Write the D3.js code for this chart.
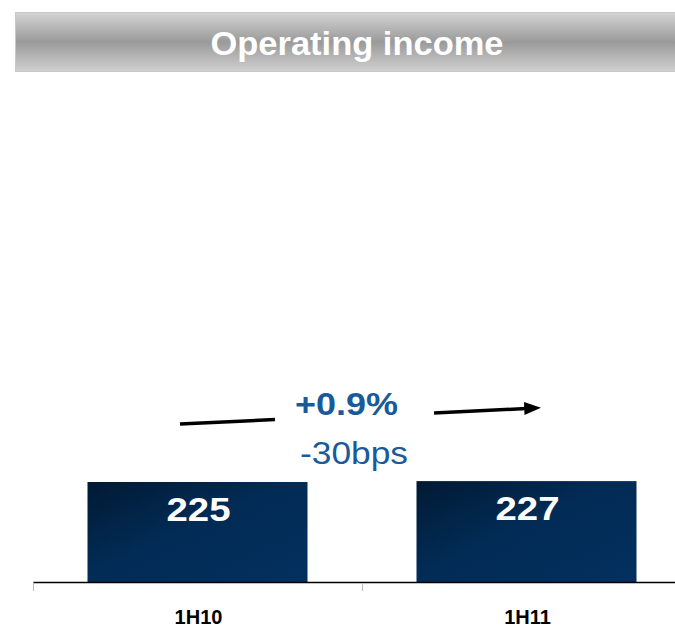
<!DOCTYPE html>
<html><head><meta charset="utf-8">
<script src="https://cdn.jsdelivr.net/npm/d3@7"></script>
<style>html,body{margin:0;padding:0;background:#fff;}svg{display:block;}</style>
</head><body>
<script>
const categories = ["1H10", "1H11"];
const values = [225, 227];
const title = "Operating income";
const changeLabel = "+0.9%";
const marginLabel = "-30bps";

const W = 675, H = 629;
const svg = d3.select("body").append("svg").attr("width", W).attr("height", H)
  .style("font-family", "Arial, 'Liberation Sans', sans-serif");

const defs = svg.append("defs");
const tg = defs.append("linearGradient").attr("id", "tg").attr("x1", 0).attr("y1", 0).attr("x2", 0).attr("y2", 1);
tg.append("stop").attr("offset", "0%").attr("stop-color", "#d4d4d4");
tg.append("stop").attr("offset", "50%").attr("stop-color", "#9a9a9a");
tg.append("stop").attr("offset", "100%").attr("stop-color", "#d0d0d0");
const bg = defs.append("linearGradient").attr("id", "bg").attr("x1", 0).attr("y1", 0).attr("x2", 1).attr("y2", 1);
bg.append("stop").attr("offset", "0%").attr("stop-color", "#011a33");
bg.append("stop").attr("offset", "45%").attr("stop-color", "#022b55");
bg.append("stop").attr("offset", "100%").attr("stop-color", "#03305f");

// Title bar
svg.append("rect").attr("x", 15.5).attr("y", 12.5).attr("width", 680).attr("height", 59)
  .attr("fill", "url(#tg)").attr("stroke", "#c8c8c8").attr("stroke-width", 1);
svg.append("text").attr("x", 357).attr("y", 55).attr("text-anchor", "middle")
  .attr("fill", "#fff").attr("font-weight", "bold").attr("font-size", 34)
  .attr("textLength", 293).attr("lengthAdjust", "spacingAndGlyphs").text(title);

// Scales
const x = d3.scaleBand().domain(categories).range([33, 691]).paddingInner(0).paddingOuter(0);
const y = d3.scaleLinear().domain([0, 630]).range([582, 302]);
const barW = 220;

svg.selectAll("rect.bar").data(values).join("rect").attr("class", "bar")
  .attr("x", (d, i) => x(categories[i]) + x.bandwidth() / 2 - barW / 2)
  .attr("y", d => y(d)).attr("width", barW).attr("height", d => y(0) - y(d))
  .attr("fill", "url(#bg)");

svg.selectAll("text.val").data(values).join("text").attr("class", "val")
  .attr("x", (d, i) => x(categories[i]) + x.bandwidth() / 2 + 1)
  .attr("y", d => y(d) + 39).attr("text-anchor", "middle")
  .attr("textLength", 64).attr("lengthAdjust", "spacingAndGlyphs")
  .attr("fill", "#fff").attr("font-weight", "bold").attr("font-size", 34).text(d => d);

// Axis
const ax = svg.append("g").attr("transform", `translate(0,${y(0)})`)
  .call(d3.axisBottom(x).tickSize(0).tickFormat(""));
ax.select(".domain").attr("stroke", "#000").attr("stroke-width", 1.5);
ax.selectAll(".tick").remove();
svg.selectAll("line.sep").data(categories).join("line").attr("class", "sep")
  .attr("x1", d => x(d) + 0.5).attr("x2", d => x(d) + 0.5)
  .attr("y1", y(0) + 1).attr("y2", y(0) + 9).attr("stroke", "#bbb").attr("stroke-width", 1);
svg.selectAll("text.cat").data(categories).join("text").attr("class", "cat")
  .attr("x", d => x(d) + x.bandwidth() / 2 + 1).attr("y", 624).attr("text-anchor", "middle")
  .attr("font-weight", "bold").attr("font-size", 20).attr("fill", "#000").text(d => d);

// Change annotation
svg.append("text").attr("x", 346.5).attr("y", 415).attr("text-anchor", "middle")
  .attr("textLength", 103).attr("lengthAdjust", "spacingAndGlyphs")
  .attr("fill", "#185a9a").attr("font-weight", "bold").attr("font-size", 32).text(changeLabel);
svg.append("text").attr("x", 354).attr("y", 464).attr("text-anchor", "middle")
  .attr("textLength", 108).attr("lengthAdjust", "spacingAndGlyphs")
  .attr("fill", "#185a9a").attr("font-size", 32).text(marginLabel);

svg.append("line").attr("x1", 180).attr("y1", 424).attr("x2", 275).attr("y2", 419.5)
  .attr("stroke", "#000").attr("stroke-width", 3.5);
svg.append("line").attr("x1", 434).attr("y1", 413).attr("x2", 526).attr("y2", 408.5)
  .attr("stroke", "#000").attr("stroke-width", 3.5);
svg.append("path").attr("d", "M524,402 L541,407.7 L524.5,415 Z").attr("fill", "#000");
</script>
</body></html>
